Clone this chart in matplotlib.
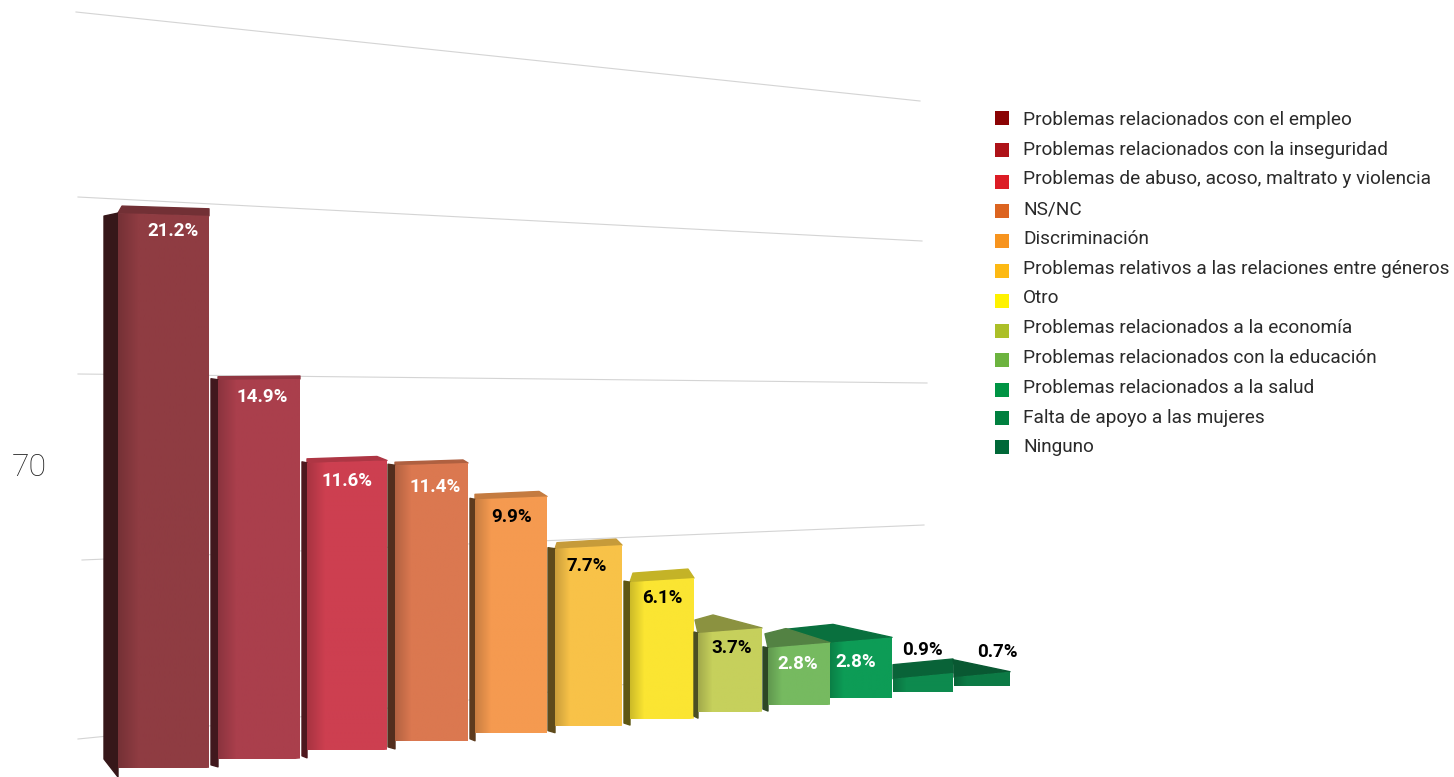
import numpy as np
from matplotlib import pyplot as plt
from matplotlib.patches import Polygon, Rectangle
from matplotlib.colors import to_rgb

plt.rcParams['font.family'] = ['Roboto', 'DejaVu Sans']

categories = ["Problemas relacionados con el empleo", "Problemas relacionados con la inseguridad",
              "Problemas de abuso, acoso, maltrato y violencia", "NS/NC", "Discriminación",
              "Problemas relativos a las relaciones entre géneros", "Otro",
              "Problemas relacionados a la economía", "Problemas relacionados con la educación",
              "Problemas relacionados a la salud", "Falta de apoyo a las mujeres", "Ninguno"]
values = [21.2, 14.9, 11.6, 11.4, 9.9, 7.7, 6.1, 3.7, 2.8, 2.8, 0.9, 0.7]
legend_colors = ["#8b0304", "#ae1218", "#dc1c25", "#dc6420", "#f7941e", "#fdb913",
                 "#fff200", "#acbf28", "#6cb33f", "#009444", "#00803f", "#006838"]
front_colors = ["#8f3c42", "#aa3f4c", "#cd3f50", "#db7850", "#f59a50", "#f8c248",
                "#fbe532", "#c6d05c", "#76ba60", "#0d9c56", "#0d8a4e", "#0c7a45"]

# bar layout in pixels of the page
front_left = [118, 218, 307, 395, 475, 555, 630, 698, 768, 830, 893, 954]
front_right = [209, 300, 387, 468, 547, 622, 694, 762, 830, 892, 953, 1010]
side_width = [14, 7, 5, 7, 5, 7, 6, 4, 5, 0, 0, 0]
back_left = [4, 0, 0, 0, 0, 2, 3, -3, -3, -47, 0, 0]
back_right = [0, 0, -10, -5, -8, -6, -6, -49, -44, -59, 0, -57]
rise = [7, 3, 4, 3, 5, 6, 9, 13, 14, 13, 14, 12]
top_shade = [0.8, 0.85, 0.85, 0.8, 0.8, 0.8, 0.78, 0.7, 0.7, 0.72, 0.72, 0.72]
label_x = [173, 262, 347, 435, 512, 587, 662, 732, 798, 856, 922, 997]
label_dy = [16, 17.5, 19, 23, 19, 19, 18, 17.5, 18.5, 21.5, -26, -21]
label_color = ["white"] * 4 + ["black"] * 4 + ["white"] * 2 + ["black"] * 2
grid_lines = [((76, 12), (920, 101)), ((78, 197), (922, 241)), ((78, 374), (927, 383)),
              ((82, 560), (924, 525)), ((78, 739), (700, 677))]
legend_text_y = [120, 150, 179, 209, 239, 269, 298, 328, 358, 388, 418, 447]
legend_box_y = [118, 150, 182, 211, 241, 271, 301, 331, 360, 390, 418, 447]


def baseline(x):
    return 777 - 0.1015 * (x - 118)


def px_per_unit(x):
    return 26.6 - 0.0062 * (x - 118)


def top_y(x, v):
    return baseline(x) - v * px_per_unit(x)


def shade(color, factor):
    return tuple(c * factor for c in to_rgb(color))


fig = plt.figure(figsize=(14.54, 7.77), dpi=100)
ax = fig.add_axes([0, 0, 1, 1])

for a, b in grid_lines:
    ax.plot([a[0], b[0]], [a[1], b[1]], color="#d4d4d4", lw=0.8, zorder=1)

for i, v in enumerate(values):
    x0, x1 = front_left[i], front_right[i]
    t0, t1 = top_y(x0, v), top_y(x1, v)
    b0, b1 = baseline(x0), baseline(x1)
    col = front_colors[i]
    z = 2 + i * 0.01
    if i == 9:
        z = 1.9  # its top runs behind the previous bar

    # top face
    top_col = shade(col, top_shade[i])
    top = [(x0, t0), (x1, t1), (x1 + back_right[i], t1 - rise[i]), (x0 + back_left[i], t0 - rise[i])]
    ax.add_patch(Polygon(top, closed=True, fc=top_col, ec=top_col, lw=1, joinstyle="round", zorder=z))

    # side face
    if side_width[i] > 0:
        sx = x0 - side_width[i]
        low = 18 if i == 0 else 2
        side_col = shade(col, 0.38)
        side = [(x0, t0), (x0, b0), (sx, b0 - low), (sx, t0 + (3 if i == 0 else -1))]
        ax.add_patch(Polygon(side, closed=True, fc=side_col, ec=side_col, lw=1, joinstyle="round", zorder=z))

    # front with a soft horizontal fade
    poly = Polygon([(x0, t0), (x1, t1), (x1, b1), (x0, b0)], closed=True, fc="none", ec="none", zorder=z)
    ax.add_patch(poly)
    n = 60
    fade = np.clip(np.linspace(0, 1, n) / 0.22, 0, 1)
    base = np.array(to_rgb(col))
    grad = np.array([base * (0.82 + 0.18 * f) for f in fade])[None, :, :]
    im = ax.imshow(grad, extent=(x0, x1, min(b0, b1), min(t0, t1) - 1), aspect="auto",
                   interpolation="bilinear", zorder=z + 0.001)
    im.set_clip_path(poly)

    ax.text(label_x[i], top_y(label_x[i], v) + label_dy[i], f"{v}%", color=label_color[i],
            fontsize=13.5, fontweight="bold", ha="center", va="center", zorder=5)

for name, c, ty, by in zip(categories, legend_colors, legend_text_y, legend_box_y):
    ax.add_patch(Rectangle((995, by - 7), 14, 14, fc=c, ec="none", zorder=3))
    ax.text(1023, ty, name, fontsize=13.7, color="#2a2a2a", ha="left", va="center", zorder=3)

ax.text(29, 467, "70", fontsize=23, fontweight="light", color="#222222", ha="center", va="center")

ax.set_xlim(0, 1454)
ax.set_ylim(777, 0)
ax.axis("off")
fig.savefig("out.png", dpi=100, facecolor="white")
